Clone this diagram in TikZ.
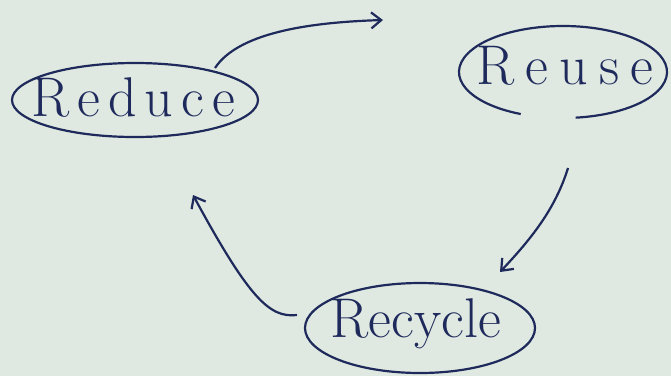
\documentclass[tikz,border=0pt]{standalone}
\usepackage{fontspec}
\usetikzlibrary{arrows.meta}
\definecolor{bg}{HTML}{DFE9E1}
\definecolor{ink}{HTML}{1F2A5C}
\newcommand{\gp}[1]{\kern#1pt}
\begin{document}
\begin{tikzpicture}[x=1pt,y=-1pt,
  word/.style={text=ink,font=\fontsize{56}{60}\selectfont},
  conn/.style={draw=ink,line width=2.2pt,-{Straight Barb[length=10pt,width=16pt,line width=2.2pt]}}]
\fill[bg] (0,0) rectangle (671,376);
\useasboundingbox (0,0) rectangle (671,376);
\draw[ink,line width=2.2pt] (135,100) ellipse [x radius=123, y radius=37];
\node[word] (reduce) at (133,98) {R\gp{8}e\gp{8}d\gp{8}u\gp{8}c\gp{8}e};
\draw[ink,line width=2.2pt] (563,72) ++(114:104 and 46) arc [start angle=114, end angle=443, x radius=104, y radius=46];
\node[word] (reuse) at (565,66) {R\gp{11}e\gp{11}u\gp{11}s\gp{11}e};
\draw[ink,line width=2.2pt] (420,328) ellipse [x radius=115, y radius=45];
\node[word] (recycle) at (416,324) {Recycle};
\coordinate (a1s) at (215,68);
\coordinate (a1e) at (383,20);
\coordinate (a2s) at (568,168);
\coordinate (a2e) at (500,272);
\coordinate (a3s) at (297,315);
\coordinate (a3e) at (193,195);
\draw[conn] (a1s) .. controls (240,30) and (320,22) .. (a1e);
\draw[conn] (a2s) .. controls (555,210) and (530,240) .. (a2e);
\draw[conn] (a3s) .. controls (270,318) and (250,300) .. (a3e);
\end{tikzpicture}
\end{document}
